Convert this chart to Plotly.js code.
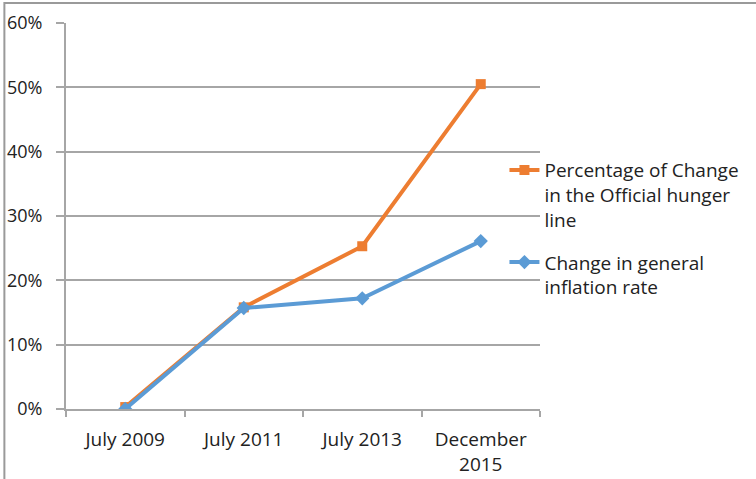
<!DOCTYPE html>
<html>
<head>
<meta charset="utf-8">
<script src="https://cdn.plot.ly/plotly-3.0.1.min.js"></script>
<style>html,body{margin:0;padding:0;background:#fff;}#chart{width:756px;height:479px;}</style>
</head>
<body>
<div id="chart"></div>
<script>
var categories = ["July 2009", "July 2011", "July 2013", "December<br>2015"];
var hungerLineChange = [0.003, 0.158, 0.253, 0.505];
var inflationChange = [0.0, 0.157, 0.172, 0.261];
var seriesNames = ["Percentage of Change<br>in the Official hunger<br>line", "Change in general<br>inflation rate"];
var yTickVals = [0, 0.1, 0.2, 0.3, 0.4, 0.5, 0.6];
var yTickText = ["0%", "10%", "20%", "30%", "40%", "50%", "60%"];

var font = "Open Sans, Noto Sans, sans-serif";
var traces = [
  {x: categories, y: hungerLineChange, name: seriesNames[0], legendgroup: "g1", type: "scatter", mode: "lines+markers",
   line: {color: "#ED7D31", width: 4}, marker: {symbol: "square", size: 10, color: "#ED7D31"}},
  {x: categories, y: inflationChange, name: seriesNames[1], legendgroup: "g2", type: "scatter", mode: "lines+markers",
   line: {color: "#5B9BD5", width: 4}, marker: {symbol: "diamond", size: 11, color: "#5B9BD5"}}
];
var layout = {
  width: 756, height: 479,
  margin: {l: 66, r: 214, t: 23, b: 70},
  paper_bgcolor: "#fff", plot_bgcolor: "#fff",
  font: {family: font, size: 18, color: "#222"},
  showlegend: true,
  legend: {x: 0.925, y: 0.668, xanchor: "left", yanchor: "top", bgcolor: "rgba(0,0,0,0)", valign: "top",
           font: {family: font, size: 19, color: "#222"}, tracegroupgap: 15},
  xaxis: {type: "category", range: [-0.5, 3.5], showgrid: false, showline: true, linecolor: "#A6A6A6", linewidth: 2,
          ticks: "outside", ticklen: 6, tickcolor: "#A6A6A6", tickwidth: 2, tickson: "boundaries", ticklabelstandoff: 12,
          tickfont: {family: font, size: 19, color: "#222"}, fixedrange: true},
  yaxis: {range: [0, 0.6], tickvals: yTickVals, ticktext: yTickText, showgrid: true, gridcolor: "#A6A6A6", gridwidth: 2,
          showline: true, linecolor: "#A6A6A6", linewidth: 2, ticks: "outside", ticklen: 8, tickcolor: "#A6A6A6", tickwidth: 2,
          zeroline: false, ticklabelstandoff: 10, tickfont: {family: font, size: 18, color: "#222"}, fixedrange: true},
  shapes: [{type: "rect", xref: "paper", yref: "paper", x0: -0.13, x1: 1.6, y0: -0.3, y1: 1.052,
            line: {color: "#9a9a9a", width: 2}, fillcolor: "rgba(0,0,0,0)"}]
};
Plotly.newPlot("chart", traces, layout, {displayModeBar: false, staticPlot: true});
</script>
</body>
</html>
